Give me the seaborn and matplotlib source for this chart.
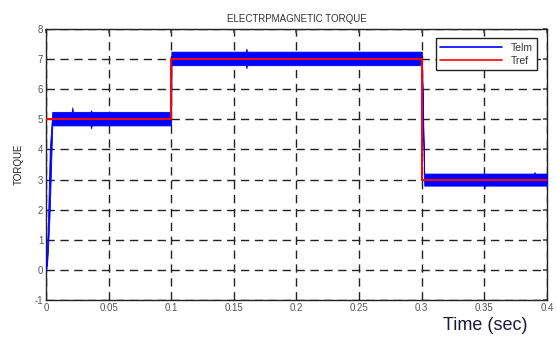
import matplotlib
matplotlib.use("Agg")
import matplotlib.pyplot as plt
import seaborn as sns
import pandas as pd
from matplotlib.lines import Line2D

# Reference torque (step)
tref_t = [0.0, 0.1, 0.1, 0.3, 0.3, 0.4]
tref_v = [5.0, 5.0, 7.0, 7.0, 3.0, 3.0]

# Telm envelope (dense ripple band)
band_t = [0.0, 0.0008, 0.0015, 0.003, 0.005,
          0.0205, 0.021, 0.0215, 0.0355, 0.036, 0.0365, 0.0999,
          0.1001, 0.1595, 0.16, 0.1605, 0.2, 0.2995, 0.2999,
          0.3001, 0.302, 0.3495, 0.35, 0.3505, 0.3895, 0.39, 0.3905, 0.4]
band_hi = [0.0, 0.8, 1.5, 4.0, 5.25,
           5.25, 5.4, 5.25, 5.25, 5.3, 5.25, 5.25,
           7.25, 7.25, 7.35, 7.25, 7.25, 7.25, 7.25,
           7.25, 3.2, 3.2, 3.2, 3.2, 3.2, 3.25, 3.2, 3.2]
band_lo = [0.0, 0.2, 0.6, 2.0, 4.8,
           4.8, 4.8, 4.8, 4.8, 4.7, 4.8, 4.8,
           6.8, 6.8, 6.7, 6.8, 6.8, 6.8, 6.8,
           6.8, 2.8, 2.8, 2.7, 2.8, 2.8, 2.8, 2.8, 2.8]

x_ticks = [0, 0.05, 0.1, 0.15, 0.2, 0.25, 0.3, 0.35, 0.4]
x_labels = ["0", "0.05", "0.1", "0.15", "0.2", "0.25", "0.3", "0.35", "0.4"]
y_ticks = [-1, 0, 1, 2, 3, 4, 5, 6, 7, 8]

sns.set_theme(style="white")
plt.rcParams['font.family'] = ['Liberation Sans', 'DejaVu Sans']
plt.rcParams['axes.unicode_minus'] = False

fig = plt.figure(figsize=(5.57, 3.38), dpi=100)
ax = fig.add_axes([0.0826, 0.1124, 0.8994, 0.8016])

ax.fill_between(band_t, band_lo, band_hi, color="#0000ff", linewidth=0.6, edgecolor="#0000ff", zorder=3)
ref_df = pd.DataFrame({"t": tref_t, "v": tref_v})
sns.lineplot(data=ref_df, x="t", y="v", color="#ff0000", lw=1.4, zorder=4, ax=ax,
             sort=False, estimator=None)

ax.set_xlim(0, 0.4)
ax.set_ylim(-1, 8)
ax.set_xticks(x_ticks)
ax.set_xticklabels(x_labels)
ax.set_yticks(y_ticks)
ax.set_xlabel("")
ax.tick_params(axis="both", labelsize=7, colors="#555555", length=3, direction="in",
               top=True, right=True, pad=2)
for s in ax.spines.values():
    s.set_color("#222222")
    s.set_linewidth(1.0)
ax.grid(True, color="#222222", linestyle=(0, (6, 4)), linewidth=1.0)
ax.set_axisbelow(True)

ax.set_title("ELECTRPMAGNETIC TORQUE", fontsize=7, color="#333333", pad=5)
ax.set_ylabel("TORQUE", fontsize=7, color="#222222", labelpad=8)
fig.text(0.872, 0.012, "Time (sec)", fontsize=13, color="#1a1a3a", ha="center", va="bottom")

handles = [Line2D([0], [0], color="#0000ff", lw=1.2), Line2D([0], [0], color="#ff0000", lw=1.2)]
leg = ax.legend(handles, ["Telm", "Tref"], loc="upper right", fontsize=7.5, frameon=True,
                fancybox=False, edgecolor="#222222", framealpha=1, borderpad=0.4,
                handlelength=6, labelspacing=0.3, bbox_to_anchor=(0.99, 0.985))
leg.get_frame().set_linewidth(1.0)
for t in leg.get_texts():
    t.set_color("#333333")

fig.savefig("out.png", dpi=100)
